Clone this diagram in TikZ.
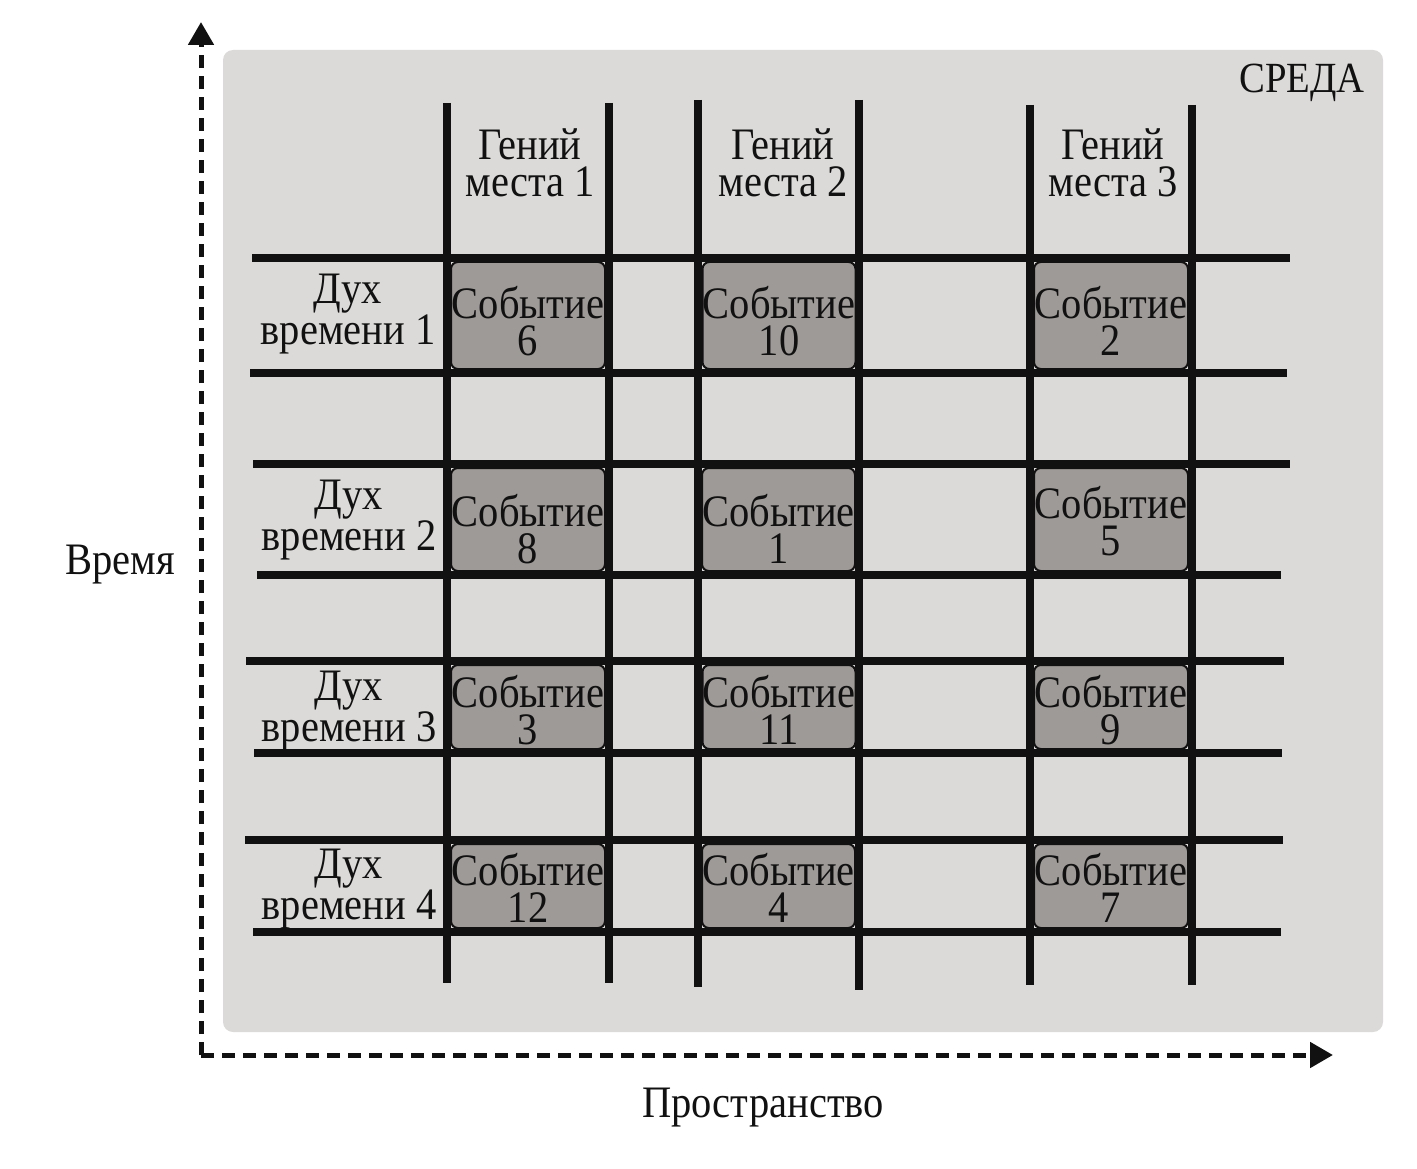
\documentclass[tikz,border=0pt]{standalone}
\usepackage{fontspec}
\setmainfont{Liberation Serif}[FakeStretch=0.9]
\usetikzlibrary{arrows.meta}
\definecolor{bgc}{HTML}{DBDAD8}
\definecolor{evc}{HTML}{9E9A97}
\definecolor{ink}{HTML}{111111}
\begin{document}
\begin{tikzpicture}[x=1pt,y=-1pt,
  gridline/.style={line width=8pt, draw=ink},
  evbox/.style={draw=ink, line width=2pt, fill=evc, rounded corners=7pt, inner sep=0pt},
  lbl/.style={font=\fontsize{45}{37}\selectfont, align=center, inner sep=0pt, text=ink},
  axis/.style={line width=5pt, draw=ink, dash pattern=on 13pt off 8pt, -{Triangle[length=23pt,width=25pt]}}]
\path[use as bounding box] (0,0) rectangle (1417,1169);
% environment background
\node[fill=bgc, rounded corners=10pt, minimum width=1160pt, minimum height=982pt, inner sep=0pt] (env) at (803,541) {};
\node[lbl, anchor=base east, font=\fontsize{43}{37}\selectfont] (sreda) at (1365,93) {СРЕДА};
% axes
\coordinate (O) at (201,1055);
\coordinate (ytip) at (201,22);
\coordinate (xtip) at (1333,1055);
\draw[axis] (O) -- (ytip);
\draw[axis] (O) -- (xtip);
\node[lbl, anchor=base] (time) at (120,574) {Время};
\node[lbl, anchor=base] (space) at (763,1117) {Пространство};
% horizontal grid lines
\foreach \y/\a/\b in {258/252/1290, 373/250/1287, 464/253/1290, 575/257/1281,
                       661/246/1284, 753/254/1282, 840/245/1283, 932/253/1281}
  \draw[gridline] (\a,\y) -- (\b,\y);
% vertical grid lines
\foreach \x/\a/\b in {447/103/983, 609/103/983, 698/100/987, 859/100/990,
                       1030/105/985, 1192/105/985}
  \draw[gridline] (\x,\a) -- (\x,\b);
% column headers
\node[lbl] (g1) at (530,163) {Гений\\места 1};
\node[lbl] (g2) at (783,163) {Гений\\места 2};
\node[lbl] (g3) at (1113,163) {Гений\\места 3};
% row labels
\node[lbl] (d1) at (348,314) {Дух\\времени 1};
\node[lbl] (d2) at (349,520) {Дух\\времени 2};
\node[lbl] (d3) at (349,711) {Дух\\времени 3};
\node[lbl] (d4) at (349,889) {Дух\\времени 4};
% events
\foreach \n/\cx/\cy/\w/\h/\ty in {
    6/528/315.5/154/107/321, 10/779/315.5/153/107/321, 2/1111/315.5/154/107/321,
    8/528/519.5/154/103/529, 1/778.5/519.5/153/103/529, 5/1111/519.5/154/103/521,
    3/528/707/154/84/710, 11/779/707/153/84/710, 9/1111/707/154/84/710,
    12/528/886/154/84/888, 4/778.5/886/153/84/888, 7/1111/886/154/84/888}{
  \node[evbox, minimum width=\w pt, minimum height=\h pt] (ev\n) at (\cx,\cy) {};
  \node[lbl] (evt\n) at (\cx,\ty) {Событие\\\n};
}
\end{tikzpicture}
\end{document}
